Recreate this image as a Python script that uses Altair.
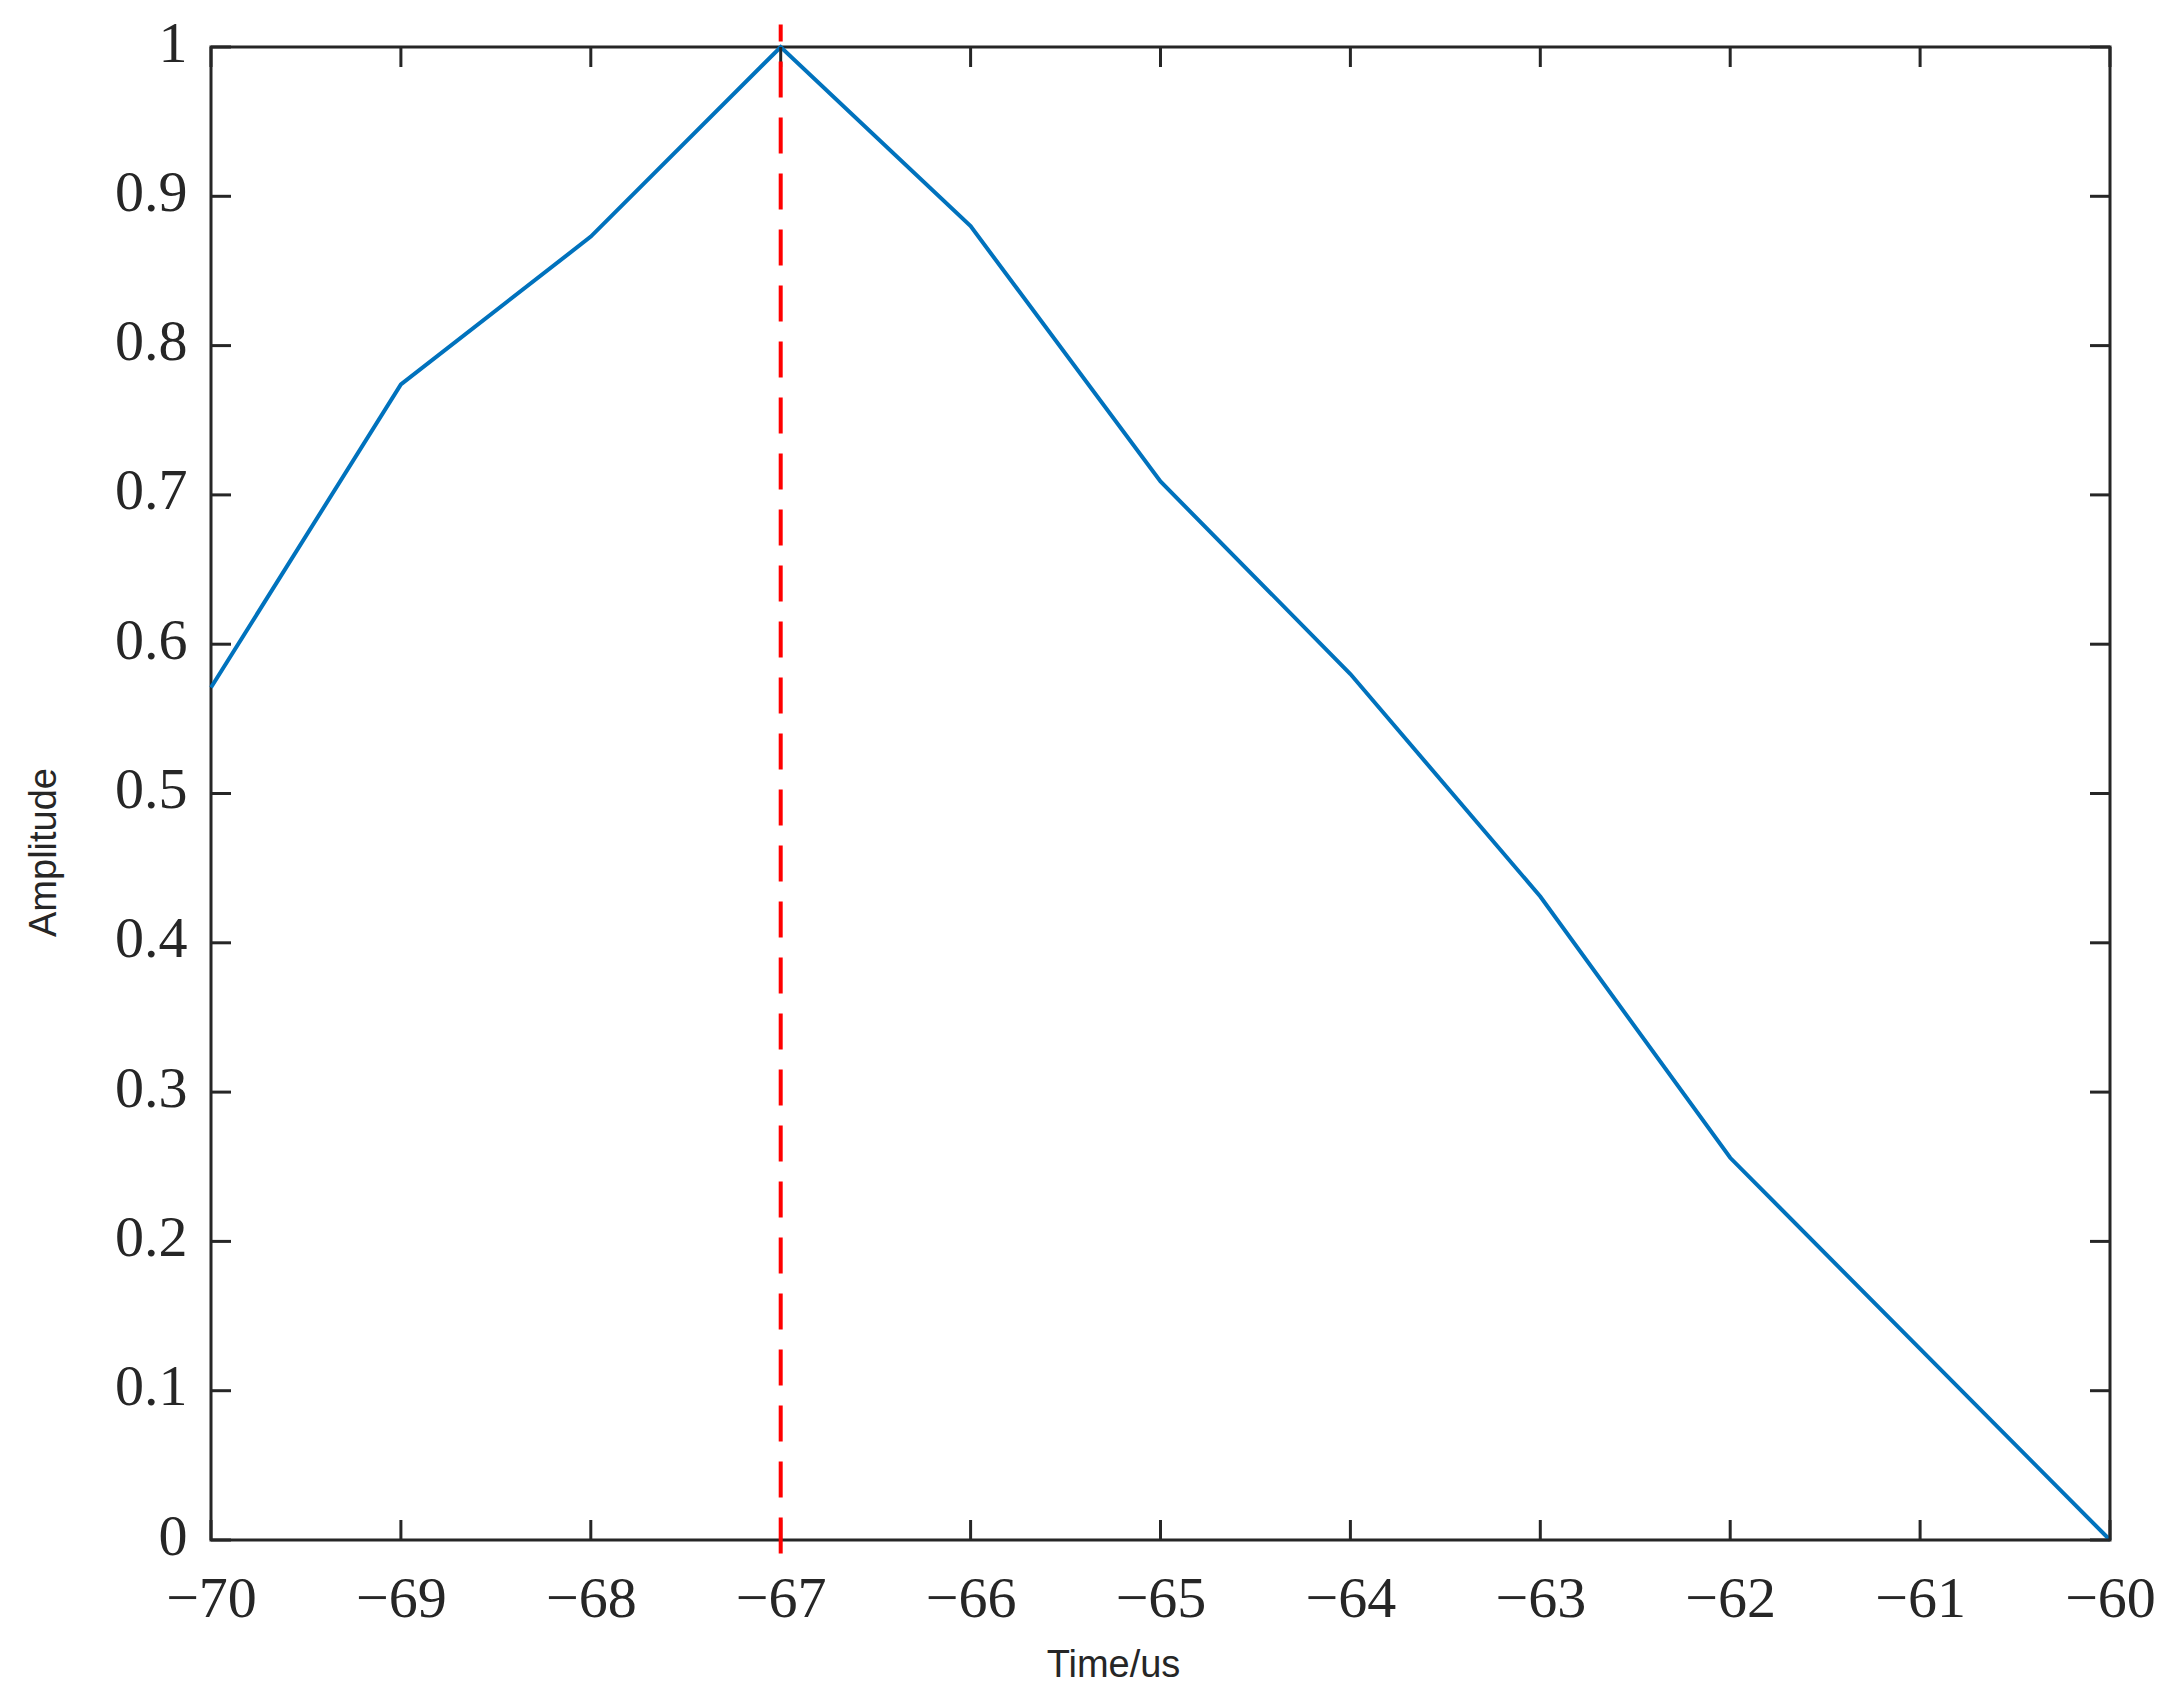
import altair as alt
import pandas as pd

# data
time_us = [-70, -69, -68, -67, -66, -65, -64, -63, -62, -61, -60]
amplitude = [0.571, 0.774, 0.873, 1.0, 0.880, 0.709, 0.580, 0.431, 0.256, 0.128, 0.0]
peak_time = -67
peak_span = [-0.009, 1.015]
x_ticks = [-70, -69, -68, -67, -66, -65, -64, -63, -62, -61, -60]
y_ticks = [0, 0.1, 0.2, 0.3, 0.4, 0.5, 0.6, 0.7, 0.8, 0.9, 1.0]

W, H = 1899, 1493
TL = 20
FRAME = "#262626"

df = pd.DataFrame({"t": time_us, "a": amplitude})
vline = pd.DataFrame({"t": [peak_time], "a": [peak_span[0]], "a2": [peak_span[1]]})
xt = pd.DataFrame({"t": x_ticks})
yt = pd.DataFrame({"a": y_ticks})

xscale = alt.Scale(domain=[-70, -60], nice=False, zero=False)
yscale = alt.Scale(domain=[0, 1], nice=False, zero=False)

xaxis = alt.Axis(values=x_ticks, format="d", domain=False, ticks=False, tickSize=0, grid=False,
                 labelFont="Liberation Serif", labelFontSize=58, labelColor=FRAME,
                 labelPadding=76, labelBaseline="alphabetic", labelFlush=False,
                 title="Time/us", titleFont="Liberation Sans", titleFontSize=38,
                 titleFontWeight="normal", titleColor=FRAME, titleX=902, titleY=136,
                 titleAlign="center", titleBaseline="alphabetic")
yaxis = alt.Axis(values=y_ticks, labelExpr="datum.value == 0 ? '0' : datum.value == 1 ? '1' : format(datum.value, '.1f')",
                 domain=False, ticks=False, tickSize=0, grid=False,
                 labelFont="Liberation Serif", labelFontSize=58, labelColor=FRAME,
                 labelPadding=24, labelBaseline="middle", labelOffset=-3, labelFlush=False,
                 title="Amplitude", titleFont="Liberation Sans", titleFontSize=38,
                 titleFontWeight="normal", titleColor=FRAME, titleX=-156, titleY=805,
                 titleAngle=270, titleAlign="center", titleBaseline="alphabetic")

line = alt.Chart(df).mark_line(color="#0072BD", strokeWidth=4, clip=False).encode(
    x=alt.X("t:Q", scale=xscale, axis=xaxis, title="Time/us"),
    y=alt.Y("a:Q", scale=yscale, axis=yaxis, title="Amplitude"),
)

peak = alt.Chart(vline).mark_rule(color="#FF0000", strokeWidth=4, strokeDash=[36, 20], clip=False).encode(
    x=alt.X("t:Q", scale=xscale),
    y=alt.Y("a:Q", scale=yscale),
    y2="a2:Q",
)

tb = alt.Chart(xt).mark_rule(color=FRAME, strokeWidth=3).encode(
    x=alt.X("t:Q", scale=xscale), y=alt.value(H), y2=alt.value(H - TL))
tt = alt.Chart(xt).mark_rule(color=FRAME, strokeWidth=3).encode(
    x=alt.X("t:Q", scale=xscale), y=alt.value(0), y2=alt.value(TL))
tlft = alt.Chart(yt).mark_rule(color=FRAME, strokeWidth=3).encode(
    y=alt.Y("a:Q", scale=yscale), x=alt.value(0), x2=alt.value(TL))
trgt = alt.Chart(yt).mark_rule(color=FRAME, strokeWidth=3).encode(
    y=alt.Y("a:Q", scale=yscale), x=alt.value(W), x2=alt.value(W - TL))

chart = alt.layer(line, tb, tt, tlft, trgt, peak).properties(
    width=W, height=H,
    autosize=alt.AutoSizeParams(type="none"),
    padding={"left": 203, "top": 39, "right": 60, "bottom": 150},
    background="white",
).configure_view(stroke=FRAME, strokeWidth=3)

chart.save("out.html", embed_options={"renderer": "svg", "actions": False})
